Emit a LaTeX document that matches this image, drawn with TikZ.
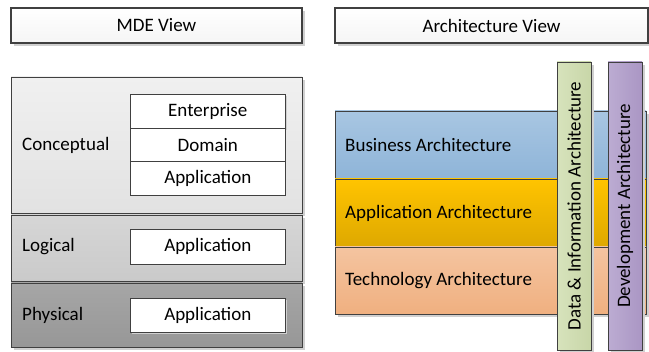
\documentclass[tikz,border=0pt]{standalone}
\usepackage{fontspec}
\setmainfont{Carlito}
\usetikzlibrary{shadows}
\definecolor{edge}{HTML}{404040}
\definecolor{shd}{HTML}{D0D0D0}
\definecolor{cA}{HTML}{F0F0F0}\definecolor{cB}{HTML}{E2E2E2}
\definecolor{lA}{HTML}{D6D6D6}\definecolor{lB}{HTML}{CACACA}
\definecolor{pA}{HTML}{A6A6A6}\definecolor{pB}{HTML}{979797}
\tikzset{
  px/.style={x=1pt,y=-1pt},
  box/.style={draw=edge, line width=0.8pt, inner sep=0pt, outer sep=0pt, drop shadow={shadow xshift=3pt, shadow yshift=-3pt, fill=shd, opacity=1}},
  head/.style={box, line width=1.6pt, top color=white, bottom color=gray!8},
  inner/.style={draw=edge, line width=0.6pt, fill=white, inner sep=0pt},
  lbl/.style={font=\fontsize{19}{21}\selectfont, text=black, inner sep=0pt},
}
\begin{document}
\begin{tikzpicture}[px]
\useasboundingbox (0,0) rectangle (649,352);
% headers
\node[head, minimum width=291pt, minimum height=35pt, anchor=north west] (mde) at (11,8) {};
\node[lbl] at (mde.center) {MDE View};
\node[head, minimum width=313pt, minimum height=35pt, anchor=north west] (arch) at (335,8) {};
\node[lbl] at (arch.center) {Architecture View};
% left panels
\node[box, top color=cA, bottom color=cB, minimum width=291pt, minimum height=136pt, anchor=north west] (concept) at (11,77) {};
\node[box, top color=lA, bottom color=lB, minimum width=291pt, minimum height=66pt, anchor=north west] (logical) at (11,215) {};
\node[box, top color=pA, bottom color=pB, minimum width=291pt, minimum height=64pt, anchor=north west] (physical) at (11,283) {};
\node[lbl, anchor=west] (conceptT) at (22,145) {Conceptual};
\node[lbl, anchor=west] (logicalT) at (22,247) {Logical};
\node[lbl, anchor=west] (physicalT) at (22,315) {Physical};
\begin{scope}[every node/.style={inner, minimum width=155pt, anchor=north west}]
\node[minimum height=34pt, drop shadow={shadow xshift=2pt, shadow yshift=-2pt, fill=shd, opacity=1}] (ent) at (130,94) {};
\node[minimum height=33pt] (dom) at (130,128) {};
\node[minimum height=34pt] (app1) at (130,161) {};
\node[minimum height=35pt, drop shadow={shadow xshift=2pt, shadow yshift=-2pt, fill=shd, opacity=1}] (app2) at (130,229) {};
\node[minimum height=34pt, drop shadow={shadow xshift=2pt, shadow yshift=-2pt, fill=shd, opacity=1}] (app3) at (130,298) {};
\end{scope}
\node[lbl] at (ent.center) {Enterprise};
\node[lbl] at (dom.center) {Domain};
\node[lbl] at (app1.center) {Application};
\node[lbl] at (app2.center) {Application};
\node[lbl] at (app3.center) {Application};
% right layers
\node[box, top color={rgb,255:red,168;green,198;blue,226}, bottom color={rgb,255:red,142;green,180;blue,216}, minimum width=311pt, minimum height=68pt, anchor=north west] (bus) at (335,111) {};
\node[box, top color={rgb,255:red,255;green,196;blue,0}, bottom color={rgb,255:red,222;green,168;blue,0}, minimum width=311pt, minimum height=68pt, anchor=north west] (appa) at (335,179) {};
\node[box, top color={rgb,255:red,244;green,196;blue,160}, bottom color={rgb,255:red,240;green,176;blue,128}, minimum width=311pt, minimum height=67pt, anchor=north west] (tech) at (335,247) {};
\node[lbl, anchor=west] at (345,145) {Business Architecture};
\node[lbl, anchor=west] at (345,213) {Application Architecture};
\node[lbl, anchor=west] at (345,281) {Technology Architecture};
% vertical bars
\node[box, left color={rgb,255:red,215;green,227;blue,188}, right color={rgb,255:red,200;green,214;blue,168}, minimum width=34pt, minimum height=288pt, anchor=north west] (data) at (557,62) {};
\node[box, left color={rgb,255:red,188;green,172;blue,210}, right color={rgb,255:red,170;green,150;blue,196}, minimum width=34pt, minimum height=288pt, anchor=north west] (dev) at (608,62) {};
\node[lbl, rotate=90] at (data.center) {Data \& Information Architecture};
\node[lbl, rotate=90] at (dev.center) {Development Architecture};
\end{tikzpicture}
\end{document}
